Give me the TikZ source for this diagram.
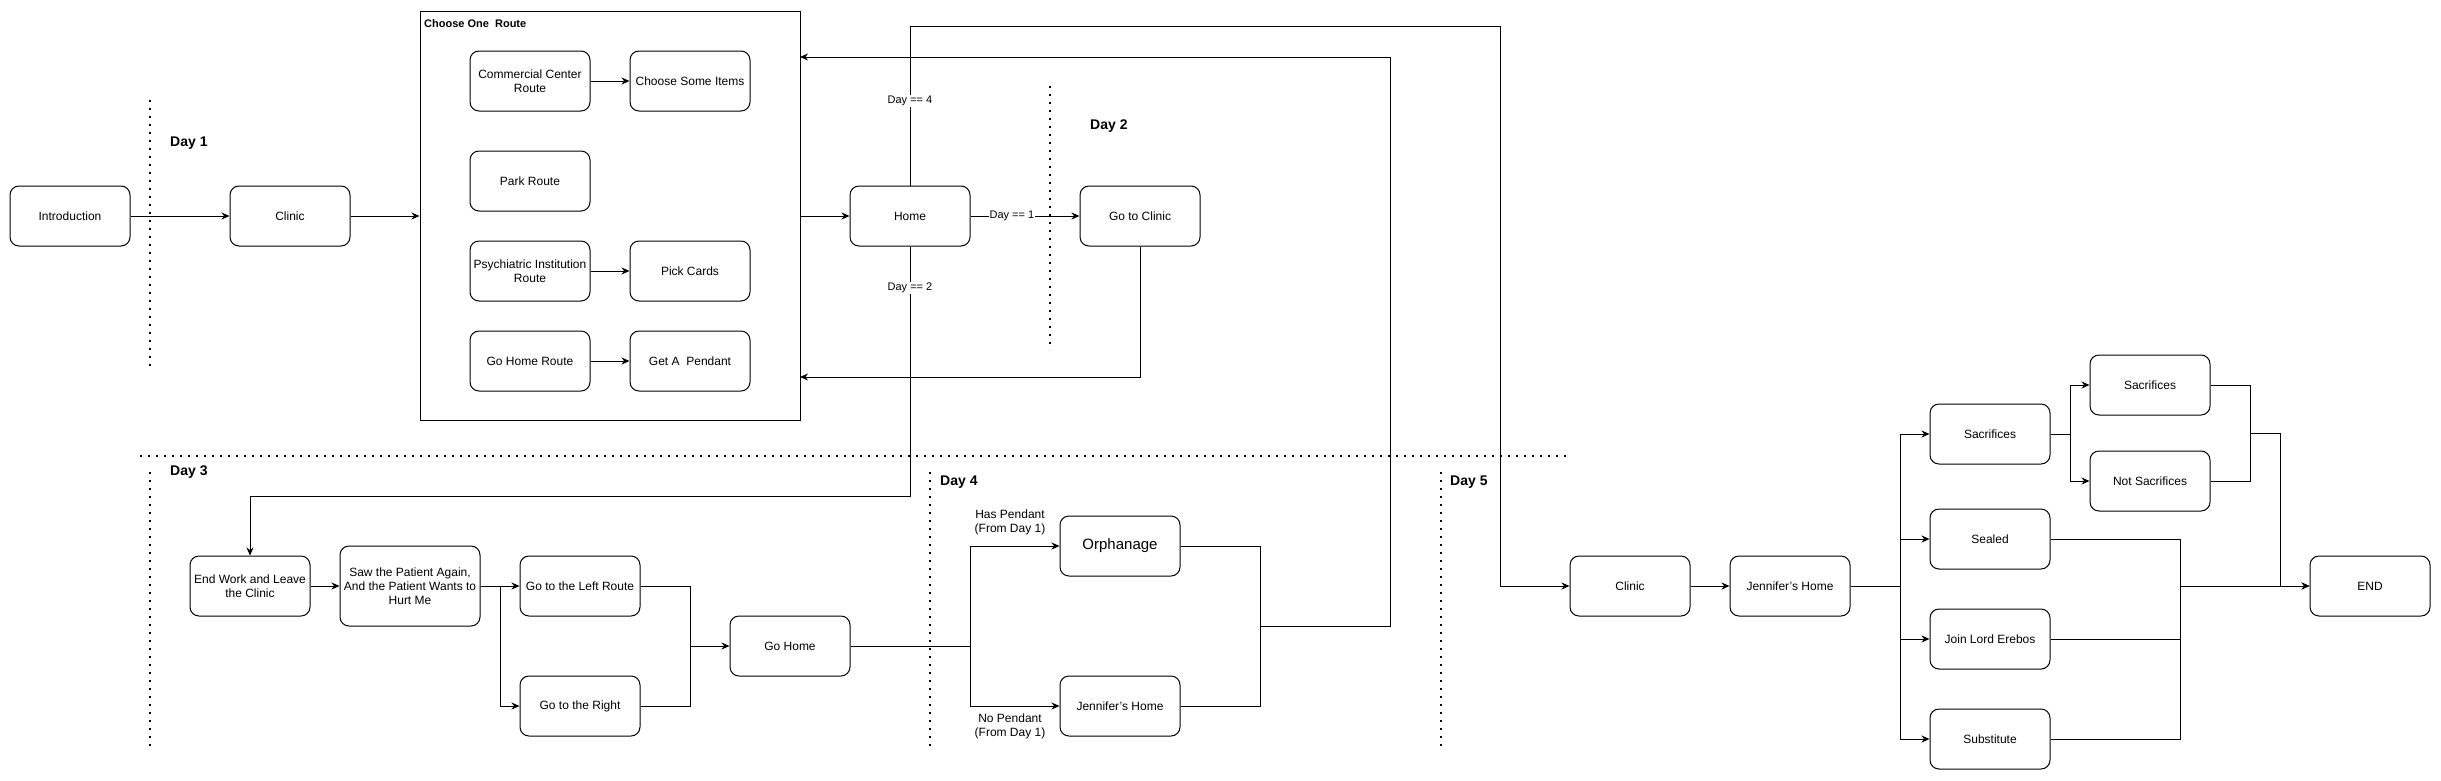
\documentclass[tikz,border=0pt]{standalone}
\usepackage{fontspec}
\setmainfont{Liberation Sans}
\usetikzlibrary{arrows.meta, positioning}

\begin{document}
\begin{tikzpicture}[x=1pt, y=-1pt,
  box/.style={rectangle, draw, rounded corners=9pt, line width=1pt, minimum width=120pt,
    minimum height=60pt, align=center, inner sep=1pt, font=\fontsize{12}{14}\selectfont},
  tallbox/.style={box, minimum width=140pt, minimum height=80pt},
  arrow/.style={-{Stealth[length=8pt, width=7pt]}, line width=1pt},
  line/.style={line width=1pt},
  daysep/.style={line width=1.6pt, dash pattern=on 1.6pt off 6.4pt},
  daylabel/.style={anchor=west, inner sep=0pt, font=\bfseries\fontsize{14}{16}\selectfont},
  cond/.style={fill=white, inner sep=1pt, font=\fontsize{11}{13}\selectfont},
  note/.style={align=center, inner sep=0pt, font=\fontsize{12}{14}\selectfont}
]
\useasboundingbox (0,0) rectangle (2441,780);

% day separators
\draw[daysep] (150,100) -- (150,366);
\draw[daysep] (1050,86) -- (1050,350);
\draw[daysep] (140,456) -- (1566,456);
\draw[daysep] (150,472) -- (150,746);
\draw[daysep] (930,472) -- (930,746);
\draw[daysep] (1441,472) -- (1441,746);
\node[daylabel] (day1) at (170,143) {Day 1};
\node[daylabel] (day2) at (1090,126) {Day 2};
\node[daylabel] (day3) at (170,472) {Day 3};
\node[daylabel] (day4) at (940,482) {Day 4};
\node[daylabel] (day5) at (1450,482) {Day 5};

% day 1 and 2
\node[box] (intro) at (70,216) {Introduction};
\node[box] (clinic1) at (290,216) {Clinic};
\node[draw, line width=1pt, minimum width=380pt, minimum height=409pt, inner sep=0pt] (routes) at (610,215.5) {};
\node[anchor=north west, inner sep=0pt, font=\bfseries\fontsize{11}{13}\selectfont] (routestitle) at (424,19) {Choose One\ \ Route};
\node[box] (commercial) at (530,81) {Commercial Center\\Route};
\node[box] (items) at (690,81) {Choose Some Items};
\node[box] (park) at (530,181) {Park Route};
\node[box] (psych) at (530,271) {Psychiatric Institution\\Route};
\node[box] (cards) at (690,271) {Pick Cards};
\node[box] (homeroute) at (530,361) {Go Home Route};
\node[box] (pendant) at (690,361) {Get A\ \ Pendant};
\node[box] (home) at (910,216) {Home};
\node[box] (goclinic) at (1140,216) {Go to Clinic};

% day 3
\node[box] (endwork) at (250,586) {End Work and Leave\\the Clinic};
\node[tallbox] (saw) at (410,586) {Saw the Patient Again,\\And the Patient Wants to\\Hurt Me};
\node[box] (leftroute) at (580,586) {Go to the Left Route};
\node[box] (rightroute) at (580,706) {Go to the Right};
\node[box] (gohome) at (790,646) {Go Home};

% day 4
\node[box, font=\fontsize{15}{17}\selectfont] (orphanage) at (1120,546) {Orphanage};
\node[box] (jenhome4) at (1120,706) {Jennifer's Home};
\node[note] (hasnote) at (1010,522) {Has Pendant\\(From Day 1)};
\node[note] (nonote) at (1010,726) {No Pendant\\(From Day 1)};

% day 5
\node[box] (clinic5) at (1630,586) {Clinic};
\node[box] (jenhome5) at (1790,586) {Jennifer's Home};
\node[box] (sacr) at (1990,434) {Sacrifices};
\node[box] (sealed) at (1990,539) {Sealed};
\node[box] (erebos) at (1990,639) {Join Lord Erebos};
\node[box] (subst) at (1990,739) {Substitute};
\node[box] (sacr2) at (2150,385) {Sacrifices};
\node[box] (notsacr) at (2150,481) {Not Sacrifices};
\node[box] (theend) at (2370,586) {END};

\coordinate (toprail) at (1500,26);
\coordinate (backhigh) at (800,57);
\coordinate (backlow) at (800,377);
\coordinate (d3rail) at (910,496);
\coordinate (d3join) at (690,646);
\coordinate (d4split) at (970,646);
\coordinate (d4join) at (1260,626);
\coordinate (d5split) at (1900,586);
\coordinate (sacrjoin) at (2250,433);
\coordinate (endjoin) at (2180,586);

\draw[arrow] (intro) -- (clinic1);
\draw[arrow] (clinic1.east) -- (clinic1.east -| routes.west);
\draw[arrow] (commercial) -- (items);
\draw[arrow] (psych) -- (cards);
\draw[arrow] (homeroute) -- (pendant);
\draw[arrow] (home.west -| routes.east) -- (home.west);
\draw[arrow] (home) -- node[cond, pos=0.38]{Day == 1} (goclinic);
\draw[arrow] (goclinic.south) |- (backlow);
\draw[arrow] (home.north) -- node[cond, pos=0.53]{Day == 4} (home.north |- toprail) -- (toprail) |- (clinic5.west);
\draw[arrow] (home.south) -- node[cond, pos=0.165]{Day == 2} (d3rail) -| (endwork.north);

\draw[arrow] (endwork) -- (saw);
\draw[arrow] (saw) -- (leftroute);
\draw[arrow] (saw.east) -- ++(20,0) |- (rightroute.west);
\draw[line] (leftroute.east) -| (d3join);
\draw[line] (rightroute.east) -| (d3join);
\draw[arrow] (d3join) -- (gohome);

\draw[line] (gohome) -- (d4split);
\draw[arrow] (d4split) |- (orphanage.west);
\draw[arrow] (d4split) |- (jenhome4.west);
\draw[line] (orphanage.east) -| (d4join);
\draw[line] (jenhome4.east) -| (d4join);
\draw[arrow] (d4join) -- ++(130,0) |- (backhigh);

\draw[arrow] (clinic5) -- (jenhome5);
\draw[line] (jenhome5) -- (d5split);
\foreach \n in {sacr, sealed, erebos, subst}
  \draw[arrow] (d5split) |- (\n.west);
\draw[arrow] (sacr.east) -- ++(20,0) |- (sacr2.west);
\draw[arrow] (sacr.east) -- ++(20,0) |- (notsacr.west);
\draw[line] (sacr2.east) -| (sacrjoin);
\draw[line] (notsacr.east) -| (sacrjoin);
\draw[arrow] (sacrjoin) -- ++(30,0) |- (theend.west);
\foreach \n in {sealed, erebos, subst}
  \draw[line] (\n.east) -| (endjoin);
\draw[arrow] (endjoin) -- (theend);
\end{tikzpicture}
\end{document}
